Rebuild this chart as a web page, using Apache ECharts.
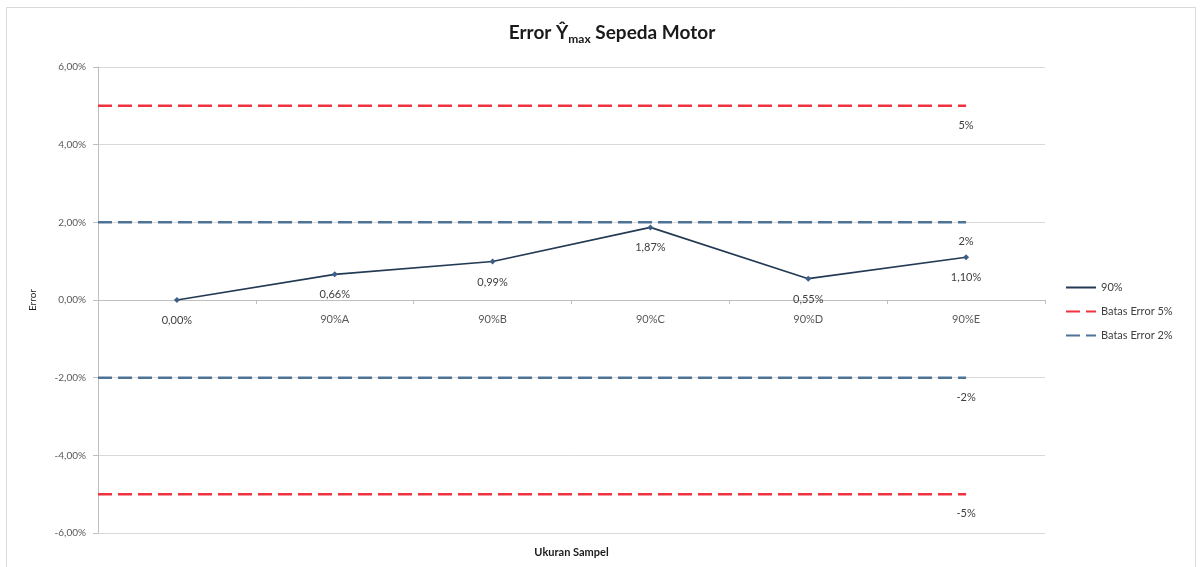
<!DOCTYPE html>
<html>
<head>
<meta charset="utf-8">
<script src="https://cdn.jsdelivr.net/npm/echarts@6/dist/echarts.min.js"></script>
<style>
  html, body { margin: 0; padding: 0; background: #fff; }
  #chart { width: 1201px; height: 567px; }
</style>
</head>
<body>
<div id="chart"></div>
<script>
// kategori sumbu x
var categories = ["", "90%A", "90%B", "90%C", "90%D", "90%E"];
// nilai error (%)
var errorValues = [0.00, 0.66, 0.99, 1.87, 0.55, 1.10];
// batas error
var limit5 = [5, -5];
var limit2 = [2, -2];
var limitLabels5 = ["5%", "-5%"];
var limitLabels2 = ["2%", "-2%"];

function fmtPct(v) {
  return v.toFixed(2).replace(".", ",") + "%";
}

// garis batas: dari sumbu y sampai titik kategori terakhir (sumbu x bantu, tersembunyi)
function limitSeries(name, value, label, color) {
  var lastX = categories.length - 0.5;
  return {
    name: name,
    type: "line",
    xAxisIndex: 1,
    symbol: "circle",
    symbolSize: 0,
    showSymbol: true,
    silent: true,
    z: 2,
    lineStyle: { color: color, width: 2.5, type: [14, 6] },
    itemStyle: { color: color },
    data: [
      { value: [0, value], label: { show: false } },
      {
        value: [lastX, value],
        label: {
          show: true,
          position: "bottom",
          distance: 14,
          formatter: label,
          color: "#404040",
          fontSize: 11,
          fontFamily: "Lato"
        }
      }
    ]
  };
}

var RED = "#f0323f";
var BLUE = "#4f7397";

var option = {
  backgroundColor: "#fff",
  animation: false,
  textStyle: { fontFamily: "Lato" },
  title: {
    left: 607,
    top: 16,
    textAlign: "center",
    text: "Error {hat|Ŷ}{sub|max} Sepeda Motor",
    textStyle: {
      fontSize: 19,
      fontWeight: "bold",
      color: "#1a1a1a",
      fontFamily: "Lato",
      rich: {
        hat: { fontSize: 19, fontWeight: "bold", color: "#1a1a1a", fontFamily: "Lato" },
        sub: { fontSize: 12, color: "#1a1a1a", fontFamily: "Lato", padding: [12, 0, 0, 0] }
      }
    }
  },
  legend: {
    orient: "vertical",
    left: 1060,
    top: 277,
    itemWidth: 30,
    itemHeight: 10,
    itemGap: 13,
    textStyle: { fontSize: 11, color: "#404040", fontFamily: "Lato" },
    data: [
      { name: "90%", itemStyle: { opacity: 0 } },
      { name: "Batas Error 5%", itemStyle: { opacity: 0 } },
      { name: "Batas Error 2%", itemStyle: { opacity: 0 } }
    ]
  },
  graphic: [
    {
      type: "rect",
      shape: { x: 6.5, y: 7.5, width: 1189, height: 570 },
      style: { fill: "none", stroke: "#d9d9d9", lineWidth: 1 },
      silent: true
    }
  ],
  grid: { left: 98, right: 156, top: 67, bottom: 34, containLabel: false },
  xAxis: [
    {
      type: "category",
      data: categories,
      position: "bottom",
      offset: -233,
      name: "Ukuran Sampel",
      nameLocation: "middle",
      nameGap: 247,
      nameTextStyle: { fontSize: 11, fontWeight: "bold", color: "#1a1a1a", fontFamily: "Lato" },
      axisLine: { show: true, onZero: false, lineStyle: { color: "#bfbfbf" } },
      axisTick: { show: true, length: 4, inside: false, lineStyle: { color: "#bfbfbf" } },
      axisLabel: { color: "#595959", fontSize: 11, margin: 14, fontFamily: "Lato" }
    },
    {
      type: "value",
      min: 0,
      max: categories.length,
      show: false
    }
  ],
  yAxis: {
    type: "value",
    min: -6,
    max: 6,
    interval: 2,
    name: "Error",
    nameLocation: "middle",
    nameGap: 60,
    nameRotate: 90,
    nameTextStyle: { fontSize: 10, color: "#1a1a1a", fontFamily: "Lato" },
    axisLine: { show: true, lineStyle: { color: "#bfbfbf" } },
    axisTick: { show: true, length: 5, lineStyle: { color: "#bfbfbf" } },
    axisLabel: {
      color: "#595959",
      fontSize: 10,
      margin: 12,
      fontFamily: "Lato",
      formatter: function (v) { return fmtPct(v); }
    },
    splitLine: { show: true, lineStyle: { color: "#d9d9d9", width: 1 } }
  },
  series: [
    limitSeries("Batas Error 5%", limit5[0], limitLabels5[0], RED),
    limitSeries("Batas Error 5%", limit5[1], limitLabels5[1], RED),
    limitSeries("Batas Error 2%", limit2[0], limitLabels2[0], BLUE),
    limitSeries("Batas Error 2%", limit2[1], limitLabels2[1], BLUE),
    {
      name: "90%",
      type: "line",
      xAxisIndex: 0,
      z: 5,
      data: errorValues,
      symbol: "diamond",
      symbolSize: 6,
      lineStyle: { color: "#233a55", width: 1.6 },
      itemStyle: { color: "#3b5f86" },
      label: {
        show: true,
        position: "bottom",
        distance: 12,
        color: "#404040",
        fontSize: 11,
        fontFamily: "Lato",
        formatter: function (p) { return fmtPct(p.value); }
      }
    }
  ]
};

var myChart = echarts.init(document.getElementById("chart"));
myChart.setOption(option);
</script>
</body>
</html>
